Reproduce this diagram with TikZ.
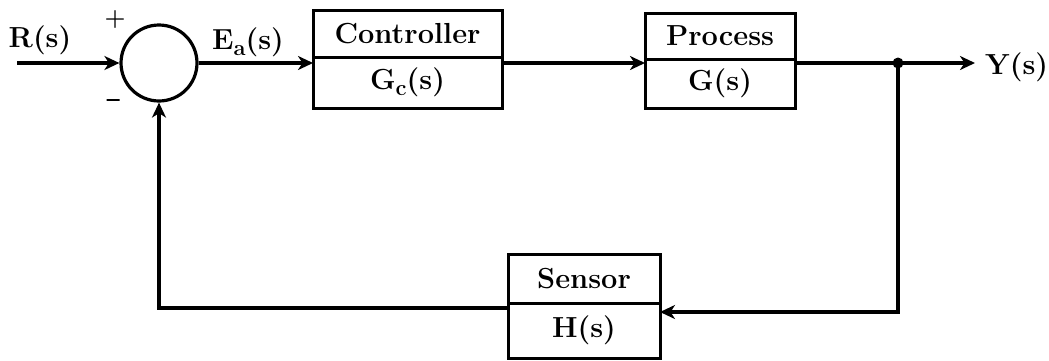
\documentclass[tikz,border=0pt]{standalone}
\usepackage{fontspec}
\usetikzlibrary{arrows.meta}
\begin{document}
\begin{tikzpicture}[x=1pt,y=-1pt,
  every node/.style={font=\fontsize{29}{34}\selectfont\bfseries, inner sep=0pt},
  blk/.style={draw, line width=3pt, rectangle, outer sep=0pt},
  wire/.style={line width=3.2pt},
  arr/.style={wire, -{Stealth[length=15pt,width=14pt,inset=4.5pt]}},
  sgn/.style={font=\fontsize{24}{28}\selectfont\bfseries}]
\useasboundingbox (0,0) rectangle (1049,360);
% summing junction
\node[draw, circle, line width=3.2pt, minimum size=76pt] (sum) at (159,63) {};
\node[sgn] (plus) at (115,20) {+};
\node[draw, line width=2.6pt, minimum width=13pt, minimum height=0pt] (minus) at (113,100) {};
% input
\coordinate (in) at (17,63);
\node (R) at (40,40) {R(s)};
% controller
\node[blk, minimum width=189pt, minimum height=47pt] (ctrlT) at (407.5,33.5) {Controller};
\node[blk, minimum width=189pt, minimum height=51pt, anchor=north] (ctrlB) at (ctrlT.south) {G\raisebox{-0.45ex}{\fontsize{22}{26}\selectfont c}(s)};
% process
\node[blk, minimum width=150pt, minimum height=46pt] (procT) at (720,36) {Process};
\node[blk, minimum width=150pt, minimum height=49pt, anchor=north] (procB) at (procT.south) {G(s)};
% sensor
\node[blk, minimum width=152pt, minimum height=49pt] (sensT) at (584,278.5) {Sensor};
\node[blk, minimum width=152pt, minimum height=55pt, anchor=north] (sensB) at (sensT.south) {H(s)};
% labels
\node (Ea) at (248,42) {E\raisebox{-0.5ex}{\fontsize{22}{26}\selectfont a}(s)};
\coordinate (j) at (898,63);
\coordinate (yo) at (975,63);
\node[anchor=west] (Y) at (985,67) {Y(s)};
% connectors
\draw[arr] (in) -- (sum.west);
\draw[arr] (sum.east) -- (sum.east -| ctrlB.west);
\draw[arr] (sum.east -| ctrlB.east) -- (sum.east -| procB.west);
\draw[arr] (sum.east -| procB.east) -- (yo);
\fill (j) circle (5.5pt);
\draw[arr] (j) |- ([yshift=-9pt]sensB.north east);
\draw[arr] ([yshift=-5pt]sensB.north west) -| (sum.south);
\end{tikzpicture}
\end{document}
